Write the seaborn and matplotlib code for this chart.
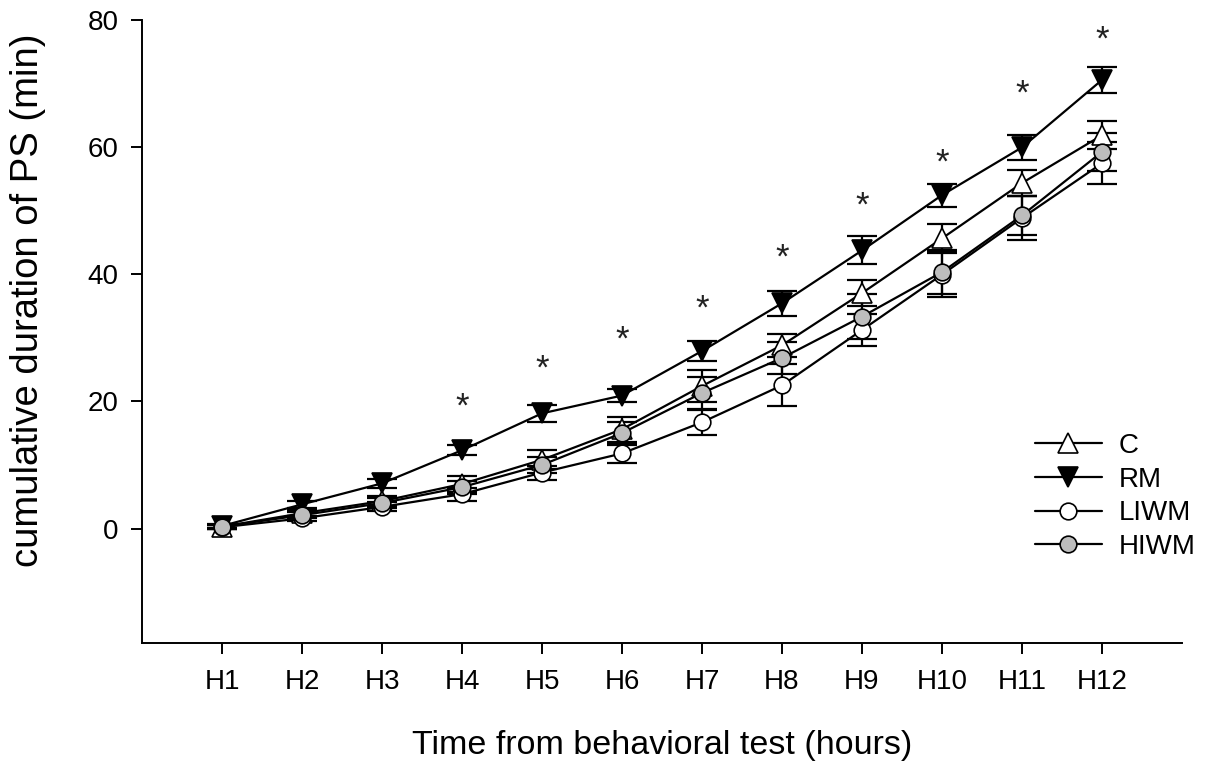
import matplotlib
matplotlib.use("Agg")
import matplotlib.pyplot as plt
import seaborn as sns
import numpy as np
import pandas as pd

hours = ["H1", "H2", "H3", "H4", "H5", "H6", "H7", "H8", "H9", "H10", "H11", "H12"]

# Mittelwerte je Gruppe (min)
c_mean = [0.3, 2.4, 4.3, 7.0, 10.8, 15.6, 22.4, 28.8, 37.0, 45.6, 54.3, 61.8]
rm_mean = [0.4, 3.8, 7.1, 12.3, 18.1, 20.9, 27.9, 35.4, 43.7, 52.4, 59.9, 70.5]
liwm_mean = [0.2, 1.6, 3.4, 5.4, 8.8, 11.8, 16.7, 22.5, 31.2, 39.9, 48.8, 57.4]
hiwm_mean = [0.3, 2.1, 4.0, 6.5, 10.0, 15.0, 21.3, 26.8, 33.3, 40.3, 49.2, 59.2]

# Standardfehler
c_se = [0.3, 0.5, 0.8, 1.2, 1.5, 2.0, 2.5, 1.8, 2.0, 2.3, 2.0, 2.2]
rm_se = [0.3, 0.5, 0.7, 0.8, 1.3, 1.0, 1.5, 2.0, 2.2, 1.8, 2.0, 2.1]
liwm_se = [0.3, 0.4, 0.7, 1.0, 1.1, 1.5, 2.0, 3.3, 2.5, 3.5, 3.5, 3.3]
hiwm_se = [0.3, 0.5, 0.8, 1.0, 1.2, 1.8, 2.5, 2.5, 3.5, 3.5, 3.0, 3.0]

# Signifikanz-Sterne (Position aus der Abbildung)
star_hours = ["H4", "H5", "H6", "H7", "H8", "H9", "H10", "H11", "H12"]
star_y = [19.1, 25.0, 29.6, 34.5, 42.5, 50.6, 57.5, 68.2, 76.7]

sns.set_style("ticks")
plt.rcParams["font.family"] = ["Liberation Sans", "DejaVu Sans"]
plt.rcParams.update({
    "text.color": "black",
    "axes.labelcolor": "black",
    "axes.edgecolor": "black",
    "xtick.color": "black",
    "ytick.color": "black",
})

fig = plt.figure(figsize=(12.11, 7.69), dpi=100)
ax = fig.add_axes([0.1173, 0.1638, 0.976 - 0.1173, 0.9746 - 0.1638])

x = np.arange(1, len(hours) + 1)

groups = [
    ("C", c_mean, c_se, "^", "white", 14),
    ("RM", rm_mean, rm_se, "v", "black", 14),
    ("LIWM", liwm_mean, liwm_se, "o", "white", 12),
    ("HIWM", hiwm_mean, hiwm_se, "o", "#bdbdbd", 12),
]

for name, mean, se, marker, fc, ms in groups:
    df = pd.DataFrame({"x": x, "y": mean})
    ax.errorbar(x, mean, yerr=se, fmt="none", ecolor="black",
                elinewidth=1.6, capsize=11, capthick=1.6, zorder=2)
    sns.lineplot(data=df, x="x", y="y", ax=ax, color="black", lw=1.6,
                 marker=marker, markersize=ms, markerfacecolor=fc,
                 markeredgecolor="black", markeredgewidth=1.2,
                 label=name, zorder=3)

star_x = [hours.index(h) + 1 for h in star_hours]
for sx, sy in zip(star_x, star_y):
    ax.text(sx, sy, "*", ha="center", va="center", fontsize=25,
            color="#222222")

ax.set_xlim(0, 13)
ax.set_ylim(-18, 80)
ax.set_xticks(x)
ax.set_xticklabels(hours)
ax.set_yticks([0, 20, 40, 60, 80])
ax.tick_params(axis="both", length=8, width=1.4, labelsize=20)
ax.tick_params(axis="x", pad=11)
ax.tick_params(axis="y", pad=9)
for s in ["left", "bottom"]:
    ax.spines[s].set_linewidth(1.4)
sns.despine(ax=ax)

ax.set_xlabel("Time from behavioral test (hours)", fontsize=24.5)
ax.set_ylabel("cumulative duration of PS (min)", fontsize=27.5)
ax.xaxis.set_label_coords(0.5, -0.14)
ax.yaxis.set_label_coords(-0.092, 0.55)

ax.legend(loc="upper left", bbox_to_anchor=(0.848, 0.355), frameon=False,
          fontsize=20, handlelength=2.4, labelspacing=0.28,
          handletextpad=0.6, borderaxespad=0)

fig.savefig("out.png", dpi=100)
